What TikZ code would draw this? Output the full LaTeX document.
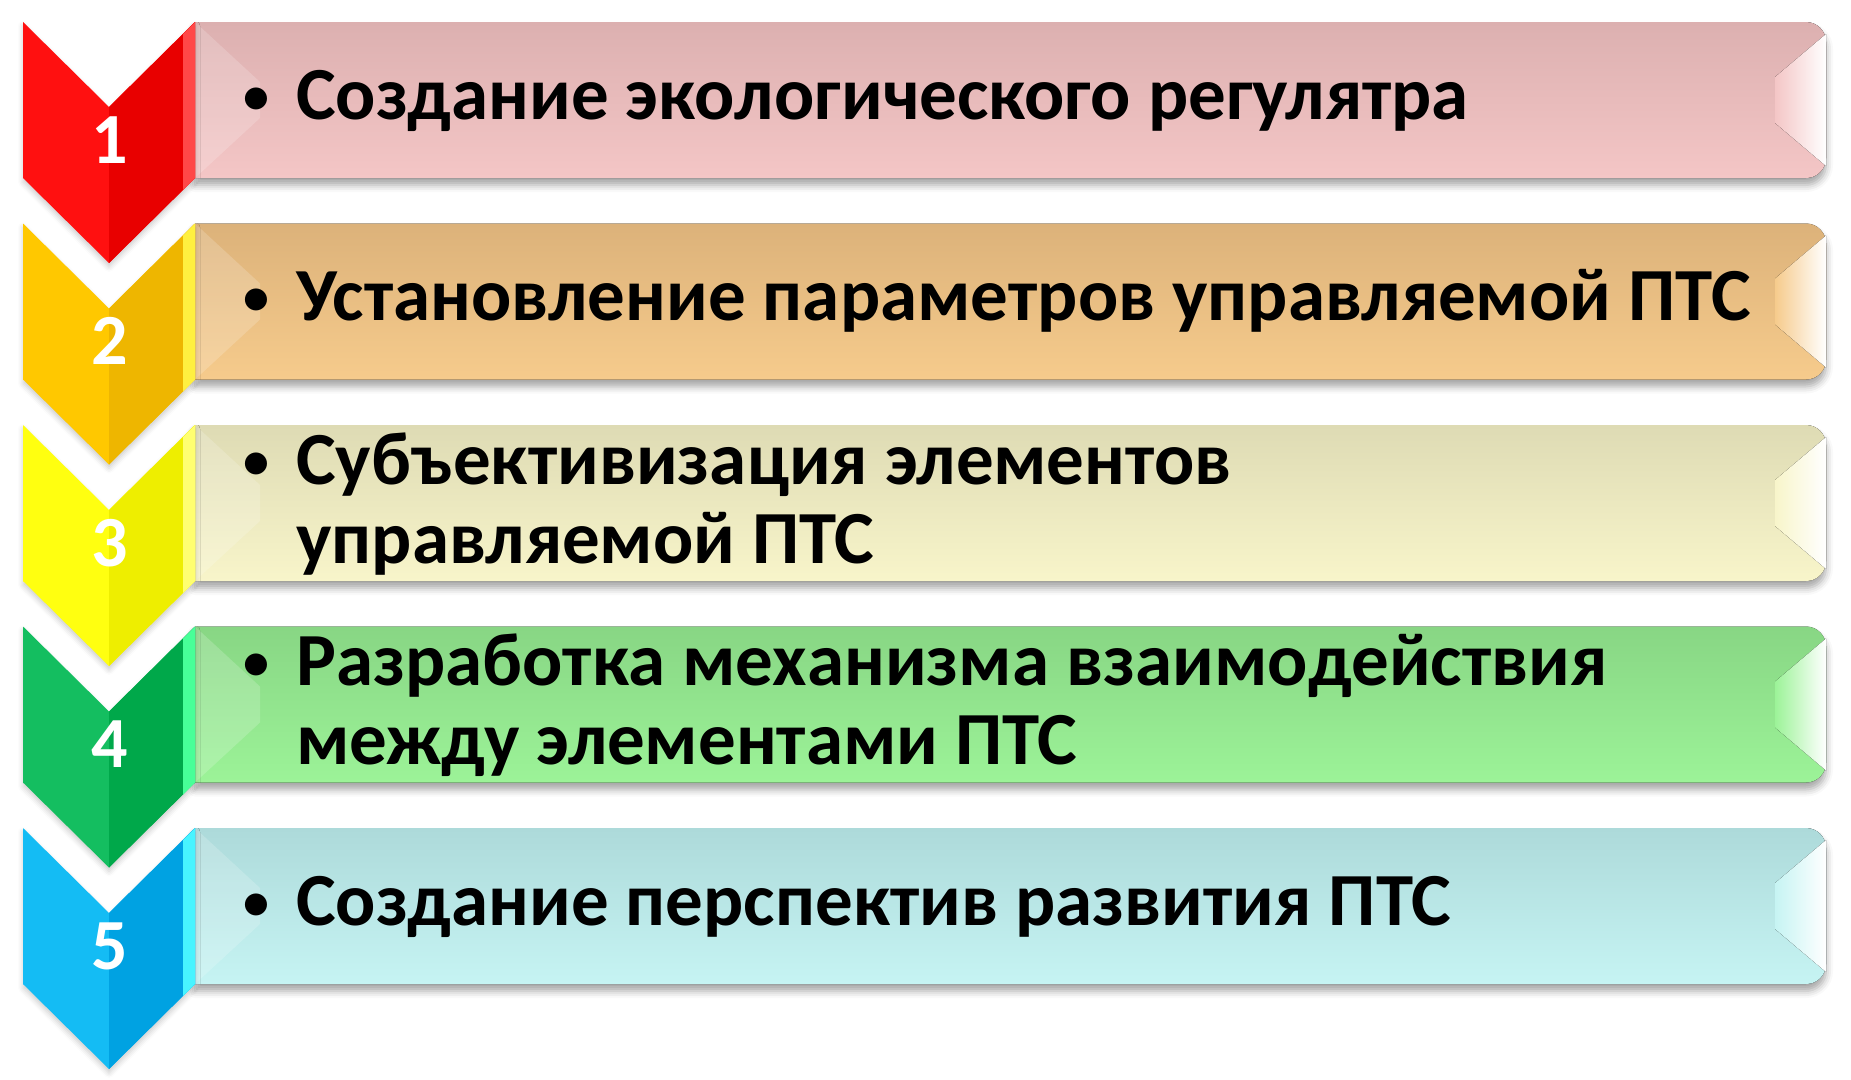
\documentclass[tikz,border=0pt]{standalone}
\usepackage{fontspec}
\setmainfont{Carlito}
\usetikzlibrary{shadows.blur}

\definecolor{seta1a}{HTML}{FF1010}
\definecolor{seta1b}{HTML}{E80000}
\definecolor{seta1c}{HTML}{FF4848}
\definecolor{faixa1}{HTML}{F4C6C6}
\definecolor{topo1}{HTML}{DCB0B0}
\definecolor{seta2a}{HTML}{FFC800}
\definecolor{seta2b}{HTML}{EEB600}
\definecolor{seta2c}{HTML}{FFF040}
\definecolor{faixa2}{HTML}{F6CB8C}
\definecolor{topo2}{HTML}{DCB27A}
\definecolor{seta3a}{HTML}{FFFF10}
\definecolor{seta3b}{HTML}{EEEE00}
\definecolor{seta3c}{HTML}{FFFF70}
\definecolor{faixa3}{HTML}{F8F5CA}
\definecolor{topo3}{HTML}{DEDBB4}
\definecolor{seta4a}{HTML}{14BE60}
\definecolor{seta4b}{HTML}{00A84A}
\definecolor{seta4c}{HTML}{48FF98}
\definecolor{faixa4}{HTML}{9CF398}
\definecolor{topo4}{HTML}{88D684}
\definecolor{seta5a}{HTML}{14BCF4}
\definecolor{seta5b}{HTML}{00A2E2}
\definecolor{seta5c}{HTML}{48F4FF}
\definecolor{faixa5}{HTML}{C6F4F3}
\definecolor{topo5}{HTML}{ADDADA}

\newcommand{\bala}{\makebox[53pt][l]{\raisebox{6pt}{\fontsize{52}{52}\selectfont•}}}

\begin{document}
\begin{tikzpicture}[
        x=1pt, y=-1pt,
        nodefaixa/.style={blur shadow={shadow xshift=0pt, shadow yshift=-7pt, shadow blur radius=7pt, shadow opacity=35}},
        nodeseta/.style={blur shadow={shadow xshift=0pt, shadow yshift=-4pt, shadow blur radius=5pt, shadow opacity=20}},
        nodebrilho/.style={fill=white, opacity=0.18},
        nodetexto/.style={inner sep=0pt, align=left, font=\fontsize{75}{79}\selectfont\bfseries, text=black},
        nodenum/.style={inner sep=0pt, font=\fontsize{72}{78}\selectfont\bfseries, text=white}
        ]
        \useasboundingbox (0,0) rectangle (1851,1079);

        % linha 1
        \begin{scope}[yshift=-22pt]
        \fill[nodefaixa, top color=topo1, middle color=faixa1, bottom color=faixa1] (195,0) -- (1806,0) arc[start angle=90, end angle=0, radius=20pt] -- (1826,136) arc[start angle=0, end angle=-90, radius=20pt] -- (195,156) -- cycle;
        \fill[left color=faixa1, right color=white] (1775,55) -- (1826,12) -- (1826,144) -- (1775,101) -- cycle;
        \fill[nodebrilho] (195,0) -- (260,60) -- (260,96) -- (195,156) -- cycle;
        \fill[nodeseta, seta1a] (23,0) -- (109,85) -- (195,0) -- (195,156) -- (109,241) -- (23,156) -- cycle;
        \fill[seta1b] (109,85) -- (195,0) -- (195,156) -- (109,241) -- cycle;
        \fill[seta1c] (183,12) -- (195,0) -- (195,156) -- (183,168) -- cycle;
        \node[nodenum, anchor=base] (n1) at (110,141) {1};
        \node[nodetexto, anchor=base west] (t1) at (243,97) {\bala Создание экологического регулятра};
        \end{scope}

        % linha 2
        \begin{scope}[yshift=-223.5pt]
        \fill[nodefaixa, top color=topo2, middle color=faixa2, bottom color=faixa2] (195,0) -- (1806,0) arc[start angle=90, end angle=0, radius=20pt] -- (1826,136) arc[start angle=0, end angle=-90, radius=20pt] -- (195,156) -- cycle;
        \fill[left color=faixa2, right color=white] (1775,55) -- (1826,12) -- (1826,144) -- (1775,101) -- cycle;
        \fill[nodebrilho] (195,0) -- (260,60) -- (260,96) -- (195,156) -- cycle;
        \fill[nodeseta, seta2a] (23,0) -- (109,85) -- (195,0) -- (195,156) -- (109,241) -- (23,156) -- cycle;
        \fill[seta2b] (109,85) -- (195,0) -- (195,156) -- (109,241) -- cycle;
        \fill[seta2c] (183,12) -- (195,0) -- (195,156) -- (183,168) -- cycle;
        \node[nodenum, anchor=base] (n2) at (110,141) {2};
        \node[nodetexto, anchor=base west] (t2) at (243,97) {\bala Установление параметров управляемой ПТС};
        \end{scope}

        % linha 3
        \begin{scope}[yshift=-425pt]
        \fill[nodefaixa, top color=topo3, middle color=faixa3, bottom color=faixa3] (195,0) -- (1806,0) arc[start angle=90, end angle=0, radius=20pt] -- (1826,136) arc[start angle=0, end angle=-90, radius=20pt] -- (195,156) -- cycle;
        \fill[left color=faixa3, right color=white] (1775,55) -- (1826,12) -- (1826,144) -- (1775,101) -- cycle;
        \fill[nodebrilho] (195,0) -- (260,60) -- (260,96) -- (195,156) -- cycle;
        \fill[nodeseta, seta3a] (23,0) -- (109,85) -- (195,0) -- (195,156) -- (109,241) -- (23,156) -- cycle;
        \fill[seta3b] (109,85) -- (195,0) -- (195,156) -- (109,241) -- cycle;
        \fill[seta3c] (183,12) -- (195,0) -- (195,156) -- (183,168) -- cycle;
        \node[nodenum, anchor=base] (n3) at (110,141) {3};
        \node[nodetexto, anchor=base west] (t3) at (243,138) {\bala Субъективизация элементов\\\hspace*{53pt}управляемой ПТС};
        \end{scope}

        % linha 4
        \begin{scope}[yshift=-626.5pt]
        \fill[nodefaixa, top color=topo4, middle color=faixa4, bottom color=faixa4] (195,0) -- (1806,0) arc[start angle=90, end angle=0, radius=20pt] -- (1826,136) arc[start angle=0, end angle=-90, radius=20pt] -- (195,156) -- cycle;
        \fill[left color=faixa4, right color=white] (1775,55) -- (1826,12) -- (1826,144) -- (1775,101) -- cycle;
        \fill[nodebrilho] (195,0) -- (260,60) -- (260,96) -- (195,156) -- cycle;
        \fill[nodeseta, seta4a] (23,0) -- (109,85) -- (195,0) -- (195,156) -- (109,241) -- (23,156) -- cycle;
        \fill[seta4b] (109,85) -- (195,0) -- (195,156) -- (109,241) -- cycle;
        \fill[seta4c] (183,12) -- (195,0) -- (195,156) -- (183,168) -- cycle;
        \node[nodenum, anchor=base] (n4) at (110,141) {4};
        \node[nodetexto, anchor=base west] (t4) at (243,138) {\bala Разработка механизма взаимодействия\\\hspace*{53pt}между элементами ПТС};
        \end{scope}

        % linha 5
        \begin{scope}[yshift=-828pt]
        \fill[nodefaixa, top color=topo5, middle color=faixa5, bottom color=faixa5] (195,0) -- (1806,0) arc[start angle=90, end angle=0, radius=20pt] -- (1826,136) arc[start angle=0, end angle=-90, radius=20pt] -- (195,156) -- cycle;
        \fill[left color=faixa5, right color=white] (1775,55) -- (1826,12) -- (1826,144) -- (1775,101) -- cycle;
        \fill[nodebrilho] (195,0) -- (260,60) -- (260,96) -- (195,156) -- cycle;
        \fill[nodeseta, seta5a] (23,0) -- (109,85) -- (195,0) -- (195,156) -- (109,241) -- (23,156) -- cycle;
        \fill[seta5b] (109,85) -- (195,0) -- (195,156) -- (109,241) -- cycle;
        \fill[seta5c] (183,12) -- (195,0) -- (195,156) -- (183,168) -- cycle;
        \node[nodenum, anchor=base] (n5) at (110,141) {5};
        \node[nodetexto, anchor=base west] (t5) at (243,97) {\bala Создание перспектив развития ПТС};
        \end{scope}
    \end{tikzpicture}
\end{document}
